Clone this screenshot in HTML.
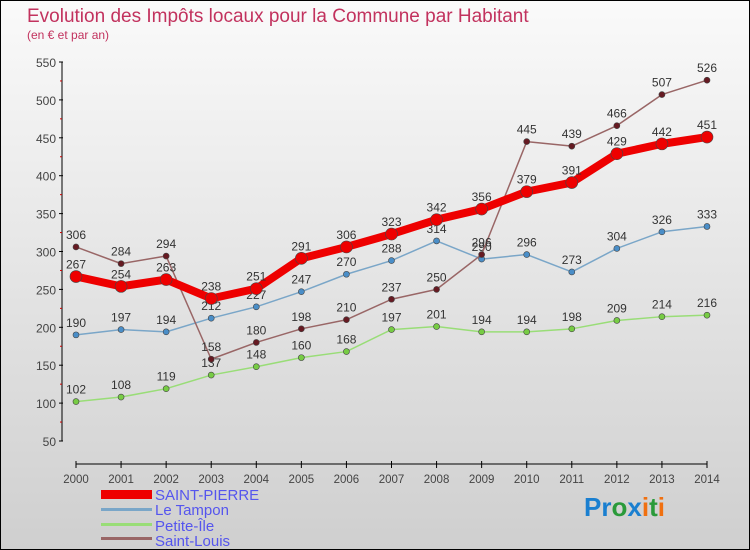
<!DOCTYPE html>
<html><head><meta charset="utf-8"><style>
body{margin:0;width:750px;height:550px;overflow:hidden;font-family:"Liberation Sans",sans-serif}
#c{position:relative;width:748px;height:548px;border:1px solid #000;background:linear-gradient(#fafafa,#cfcfcf)}
</style></head><body>
<div id="c">
<svg width="748" height="548" id="svg" style="position:absolute;left:0;top:0">
<text x="26" y="21" font-size="19" fill="#c2325e">Evolution des Impôts locaux pour la Commune par Habitant</text>
<text x="26" y="38" font-size="12" fill="#c2325e">(en € et par an)</text>
<g id="axes"></g><g id="series"></g>
<g font-size="15" fill="#5555ee">
<rect x="100" y="489" width="51" height="9" fill="#e00"/>
<text x="154" y="499">SAINT-PIERRE</text>
<rect x="100" y="507" width="51" height="3" fill="#7aa6c8"/>
<text x="154" y="514">Le Tampon</text>
<rect x="100" y="522" width="51" height="3" fill="#99dd77"/>
<text x="154" y="530">Petite-Île</text>
<rect x="100" y="536" width="51" height="3" fill="#996666"/>
<text x="154" y="545">Saint-Louis</text>
</g>
<text x="583" y="515" font-size="26" font-weight="bold"><tspan fill="#1a7fd0">Pr</tspan><tspan fill="#2a9a3a">o</tspan><tspan fill="#1a7fd0">x</tspan><tspan fill="#f07010">i</tspan><tspan fill="#2a9a3a">t</tspan><tspan fill="#f07010">i</tspan></text>
</svg>
</div>
<script>
const years=[2000,2001,2002,2003,2004,2005,2006,2007,2008,2009,2010,2011,2012,2013,2014];
const yTicks=[50,100,150,200,250,300,350,400,450,500,550];
const saintPierre=[267,254,263,238,251,291,306,323,342,356,379,391,429,442,451];
const leTampon=[190,197,194,212,227,247,270,288,314,290,296,273,304,326,333];
const petiteIle=[102,108,119,137,148,160,168,197,201,194,194,198,209,214,216];
const saintLouis=[306,284,294,158,180,198,210,237,250,296,445,439,466,507,526];
const NS="http://www.w3.org/2000/svg";
function X(i){return 75+i*(706-75)/14;}
function Y(v){return 440-(v-50)*(379/500);}
function mk(t,a,p){const e=document.createElementNS(NS,t);for(const k in a)e.setAttribute(k,a[k]);p.appendChild(e);return e;}
const ax=document.getElementById('axes');
const yl=mk('line',{x1:61,y1:Y(550),x2:61,y2:Y(50),stroke:'#000'},ax);


yTicks.forEach(v=>{
 mk('line',{x1:58,x2:62,y1:Y(v),y2:Y(v),stroke:'#000'},ax);
 if(v<550)mk('line',{x1:59,x2:61,y1:Y(v+25),y2:Y(v+25),stroke:'#c00'},ax);
 const t=mk('text',{x:55,y:Y(v)+5,'text-anchor':'end','font-size':12,fill:'#444'},ax);t.textContent=v;
 
 
});
const xl=mk('line',{x1:75,y1:463,x2:706,y2:463,stroke:'#000'},ax);


years.forEach((y,i)=>{
 mk('line',{x1:X(i),x2:X(i),y1:460,y2:467,stroke:'#000'},ax);
 const t=mk('text',{x:X(i),y:482,'text-anchor':'middle','font-size':11.5,fill:'#444'},ax);t.textContent=y;
 
 
});
const sg=document.getElementById('series');
function draw(data,name,color,dot,w,r,above){
 const g=mk('g',{},sg);
 
 
 const pl=mk('polyline',{points:data.map((v,i)=>X(i)+','+Y(v)).join(' '),fill:'none',stroke:color,'stroke-width':w,'stroke-linejoin':'round'},g);
 
 
 data.forEach((v,i)=>{
  const c=mk('circle',{cx:X(i),cy:Y(v),r:r,fill:dot,stroke:'#444','stroke-width':0.6},g);
  
  
  const t=mk('text',{x:X(i),y:Y(v)-8,'text-anchor':'middle','font-size':12,fill:'#333'},g);t.textContent=v;
  
  
 });
}
draw(petiteIle,'petite-ile','#99dd77','#77cc44',1.5,3);
draw(leTampon,'le-tampon','#7aa6c8','#4a8ec8',1.5,3);
draw(saintLouis,'saint-louis','#996666','#661a22',1.5,3);
draw(saintPierre,'saint-pierre','#ee0000','#ee0000',8,6);
</script>
</body></html>
